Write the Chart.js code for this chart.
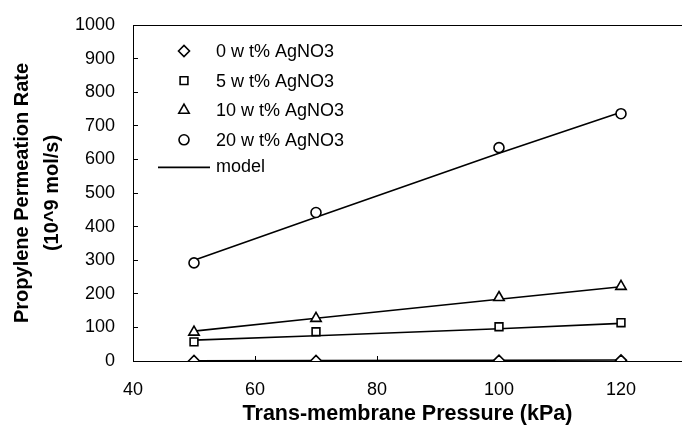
<!DOCTYPE html>
<html><head><meta charset="utf-8">
<script src="https://cdn.jsdelivr.net/npm/chart.js@4"></script>
<style>html,body{margin:0;padding:0;background:#fff;}#wrap{width:682px;height:425px;}</style>
</head><body><div id="wrap"><canvas id="c" width="682" height="425"></canvas></div>
<script>
const pressure = [50, 70, 100, 120];
const wt0 = [0, 0, 1, 2];
const wt5 = [57, 87, 102, 114];
const wt10 = [86, 127, 189, 222];
const wt20 = [292, 442, 635, 736];
const model0 = [0.5, 1, 2, 3];
const model5 = [62, 75, 96, 112];
const model10 = [89, 127, 184, 221];
const model20 = [300, 428, 618, 740];
const xTicks = [40, 60, 80, 100, 120];
const yTicks = [0, 100, 200, 300, 400, 500, 600, 700, 800, 900, 1000];
const seriesLabels = ['0 w t% AgNO3', '5 w t% AgNO3', '10 w t% AgNO3', '20 w t% AgNO3'];
const modelLabel = 'model';
const xTitle = 'Trans-membrane Pressure (kPa)';
const yTitle = ['Propylene Permeation Rate', '(10^9 mol/s)'];

const FONT = "'Liberation Sans', Arial, sans-serif";
const pts = (ys) => pressure.map((x, i) => ({x: x, y: ys[i]}));
const styles = [
  {pointStyle: 'rectRot', radius: 5.5},
  {pointStyle: 'rect', radius: 5.5},
  {pointStyle: 'triangle', radius: 6},
  {pointStyle: 'circle', radius: 5}
];
const measured = [wt0, wt5, wt10, wt20];
const models = [model0, model5, model10, model20];

const datasets = [];
measured.forEach((d, i) => {
  datasets.push({
    label: seriesLabels[i], data: pts(d), showLine: false, order: 0,
    pointStyle: styles[i].pointStyle, pointRadius: styles[i].radius,
    pointBackgroundColor: '#fff', pointBorderColor: '#000', pointBorderWidth: 1.6
  });
});
models.forEach((d, i) => {
  datasets.push({
    label: modelLabel, data: pts(d), showLine: true, order: 1,
    pointRadius: 0, borderColor: '#000', borderWidth: 1.6, fill: false
  });
});

const legendPlugin = {
  id: 'innerLegend',
  afterDatasetsDraw(chart) {
    const ctx = chart.ctx, a = chart.chartArea;
    ctx.save();
    ctx.font = '18px ' + FONT;
    ctx.textBaseline = 'middle';
    ctx.textAlign = 'left';
    const mx = a.left + 51, tx = a.left + 83;
    const rowY = (i) => a.top + 26 + i * 29.6;
    for (let i = 0; i < 4; i++) {
      const ds = chart.data.datasets[i];
      ctx.fillStyle = '#fff';
      ctx.strokeStyle = '#000';
      ctx.lineWidth = 1.6;
      Chart.helpers.drawPoint(ctx, {pointStyle: ds.pointStyle, radius: ds.pointRadius, rotation: 0, borderWidth: 1.6}, mx, rowY(i));
      ctx.fillStyle = '#000';
      ctx.fillText(ds.label, tx, rowY(i) + 1);
    }
    const y = rowY(4) - 2;
    ctx.strokeStyle = '#000';
    ctx.lineWidth = 1.6;
    ctx.beginPath();
    ctx.moveTo(a.left + 25, y);
    ctx.lineTo(a.left + 77, y);
    ctx.stroke();
    ctx.fillStyle = '#000';
    ctx.fillText(modelLabel, tx, y);
    ctx.restore();
  }
};

new Chart(document.getElementById('c'), {
  type: 'scatter',
  data: {datasets: datasets},
  plugins: [legendPlugin],
  options: {
    responsive: false, animation: false, devicePixelRatio: 1,
    layout: {autoPadding: false, padding: {top: 25, right: 0, bottom: 0, left: 0}},
    plugins: {legend: {display: false}, tooltip: {enabled: false}},
    scales: {
      x: {
        type: 'linear', position: 'bottom', min: 40, max: 130,
        afterBuildTicks: (s) => { s.ticks = xTicks.map(v => ({value: v})); },
        afterFit: (s) => { s.height = 64; s.paddingLeft = 0; s.paddingRight = 0; },
        ticks: {font: {family: FONT, size: 18}, color: '#000', padding: 23, maxRotation: 0, autoSkip: false},
        grid: {display: true, drawOnChartArea: false, drawTicks: true, tickLength: -5, color: '#000', lineWidth: 1},
        border: {display: true, color: '#000', width: 1},
        title: {display: true, text: xTitle, color: '#000', font: {family: FONT, size: 21.5, weight: 'bold', lineHeight: 1.0}, padding: {top: 4, bottom: 0}}
      },
      xTop: {
        type: 'linear', position: 'top', min: 40, max: 130,
        afterFit: (s) => { s.height = 0; s.paddingLeft = 0; s.paddingRight = 0; },
        ticks: {display: false},
        grid: {display: false},
        border: {display: true, color: '#000', width: 1}
      },
      y: {
        type: 'linear', position: 'left', min: 0, max: 1000,
        afterBuildTicks: (s) => { s.ticks = yTicks.map(v => ({value: v})); },
        afterFit: (s) => { s.width = 133; s.paddingTop = 0; s.paddingBottom = 0; },
        ticks: {font: {family: FONT, size: 18}, color: '#000', padding: 23, autoSkip: false, callback: (v) => String(v)},
        grid: {display: true, drawOnChartArea: false, drawTicks: true, tickLength: -5, color: '#000', lineWidth: 1},
        border: {display: true, color: '#000', width: 1},
        title: {display: true, text: yTitle, color: '#000', font: {family: FONT, size: 20, weight: 'bold', lineHeight: 1.475}, padding: {top: 8, bottom: 0}}
      }
    }
  }
});
</script></body></html>
